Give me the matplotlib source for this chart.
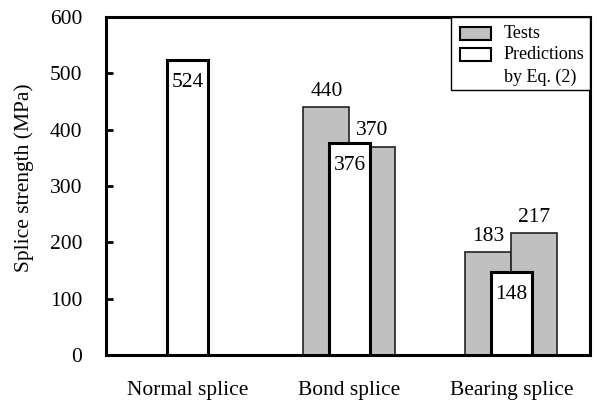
import numpy as np
import matplotlib.pyplot as plt
from matplotlib.patches import Rectangle

plt.rcParams['font.family'] = ['Liberation Serif', 'DejaVu Serif']

categories = ['Normal splice', 'Bond splice', 'Bearing splice']
# tests: two specimens per category (none for normal splice)
tests_left = [np.nan, 440, 183]
tests_right = [np.nan, 370, 217]
predictions = [524, 376, 148]
legend_labels = ['Tests', 'Predictions\nby Eq. (2)']

W, H = 597, 401
x = np.arange(len(categories))
wg = 0.284
wp = 0.253

fig = plt.figure(figsize=(W / 100, H / 100), dpi=100)
ax = fig.add_axes([106 / W, 1 - 355 / H, 484 / W, 338 / H])

gray = '#c0c0c0'
ax.bar(x - wg / 2, tests_left, wg, color=gray, edgecolor='#222222', linewidth=1.2, zorder=2)
ax.bar(x + wg / 2, tests_right, wg, color=gray, edgecolor='#222222', linewidth=1.2, zorder=2)
ax.bar(x, predictions, wp, color='white', edgecolor='black', linewidth=2.2, zorder=3)

fs = 15.5
for i in range(len(categories)):
    if not np.isnan(tests_left[i]):
        ax.annotate(f'{tests_left[i]:.0f}', (x[i] - wg / 2, tests_left[i]), xytext=(0, 4.5),
                    textcoords='offset points', ha='center', va='bottom', fontsize=fs)
        ax.annotate(f'{tests_right[i]:.0f}', (x[i] + wg / 2, tests_right[i]), xytext=(0, 4.5),
                    textcoords='offset points', ha='center', va='bottom', fontsize=fs)
    ax.annotate(f'{predictions[i]}', (x[i], predictions[i]), xytext=(0, -9.5),
                textcoords='offset points', ha='center', va='top', fontsize=fs, zorder=4)

ax.set_xlim(-0.503, 2.485)
ax.set_ylim(0, 600)
ax.set_yticks(np.arange(0, 601, 100))
ax.set_xticks(x)
ax.set_xticklabels(categories, fontsize=fs)
ax.tick_params(axis='x', length=0, pad=19)
ax.tick_params(axis='y', direction='in', length=5, width=2, labelsize=fs, pad=17)
ax.set_ylabel('Splice strength (MPa)', fontsize=fs)
ax.yaxis.set_label_coords((34 - 106) / 484, (355 - 177.5) / 338)
for s in ax.spines.values():
    s.set_linewidth(2.2)

# legend drawn by hand so the white patch sits on the first text line
tf = fig.transFigure
def px(xp, yp):
    return xp / W, 1 - yp / H

fig.patches.append(Rectangle(px(451, 90), 139 / W, 73 / H, transform=tf,
                             facecolor='white', edgecolor='black', linewidth=1.0, zorder=5))
swatch_colors = [gray, 'white']
swatch_y = [40, 61]
text_y = [33, 66]
for c, sy, ty, lab in zip(swatch_colors, swatch_y, text_y, legend_labels):
    fig.patches.append(Rectangle(px(460, sy), 31 / W, 13 / H, transform=tf,
                                 facecolor=c, edgecolor='black', linewidth=1.5, zorder=6))
    fig.text(*px(504, ty), lab, fontsize=13, ha='left', va='center',
             linespacing=1.45, zorder=7)

fig.savefig('out.png', dpi=100)
